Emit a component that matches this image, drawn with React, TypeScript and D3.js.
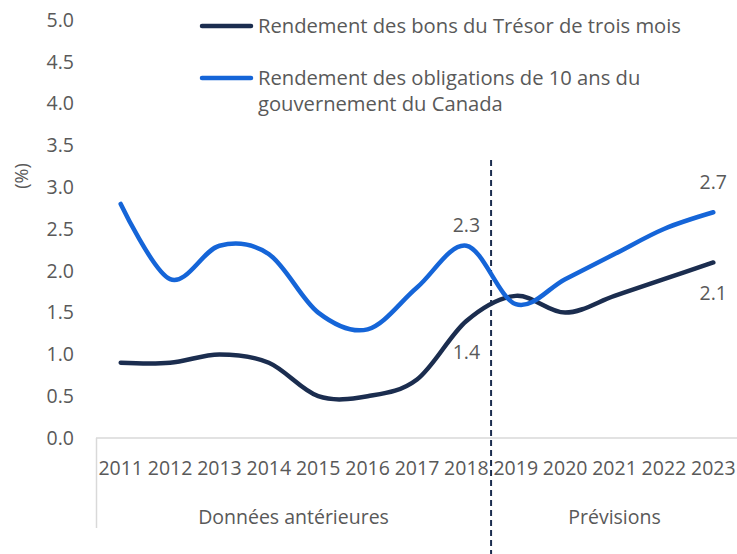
import React from 'react';
import * as d3 from 'd3';

const years = ['2011', '2012', '2013', '2014', '2015', '2016', '2017', '2018', '2019', '2020', '2021', '2022', '2023'];
const treasuryBills = [0.9, 0.9, 1.0, 0.9, 0.5, 0.5, 0.7, 1.4, 1.7, 1.5, 1.7, 1.9, 2.1];
const bonds10y = [2.8, 1.9, 2.3, 2.2, 1.5, 1.3, 1.8, 2.3, 1.6, 1.9, 2.2, 2.5, 2.7];
const yTicks = [0, 0.5, 1, 1.5, 2, 2.5, 3, 3.5, 4, 4.5, 5];
const groups = [
  { label: 'Données antérieures', from: '2011', to: '2018' },
  { label: 'Prévisions', from: '2019', to: '2023' },
];
const legendItems = [
  { lines: ['Rendement des bons du Trésor de trois mois'], color: '#1b2d4f' },
  { lines: ['Rendement des obligations de 10 ans du', 'gouvernement du Canada'], color: '#1565d8' },
];
// labels shown next to points
const pointLabels = [
  { series: 1, year: '2018' },
  { series: 0, year: '2018' },
  { series: 1, year: '2023' },
  { series: 0, year: '2023' },
];
const labelOffsets = [-21, 31, -30, 31];

const W = 737;
const H = 554;
const font = "'Open Sans', sans-serif";
const textColor = '#595959';

const App = () => {
  const x = d3.scaleBand().domain(years).range([96, 738]);
  const y = d3.scaleLinear().domain([0, 5]).range([438, 20]);
  const cx = (yr: string) => (x(yr) ?? 0) + x.bandwidth() / 2;

  const series = [treasuryBills, bonds10y];
  const line = d3
    .line<number>()
    .x((_, i) => cx(years[i]))
    .y((d) => y(d))
    .curve(d3.curveCatmullRom.alpha(0));

  const splitX = x('2019') ?? 0;

  return (
    <svg width={W} height={H} style={{ position: 'absolute', left: 0, top: 0 }} fontFamily={font}>
      {/* y axis labels */}
      {yTicks.map((t) => (
        <text key={t} x={74} y={y(t)} dy="0.35em" textAnchor="end" fontSize={19.5} fill={textColor}>
          {t.toFixed(1)}
        </text>
      ))}
      <text transform={`translate(22,176) rotate(-90)`} textAnchor="middle" dy="0.35em" fontSize={18} fill={textColor}>
        (%)
      </text>

      {/* x axis */}
      <line x1={96} x2={738} y1={y(0)} y2={y(0)} stroke="#d9d9d9" strokeWidth={1.5} />
      <line x1={96.5} x2={96.5} y1={y(0)} y2={528} stroke="#d9d9d9" strokeWidth={1.5} />
      {years.map((yr) => (
        <text key={yr} x={cx(yr)} y={468} dy="0.35em" textAnchor="middle" fontSize={19.5} fill={textColor}>
          {yr}
        </text>
      ))}
      {groups.map((g) => {
        const a = x(g.from) ?? 0;
        const b = (x(g.to) ?? 0) + x.bandwidth();
        return (
          <text key={g.label} x={(a + b) / 2} y={517} dy="0.35em" textAnchor="middle" fontSize={19.5} fill={textColor}>
            {g.label}
          </text>
        );
      })}

      {/* forecast separator */}
      <line x1={splitX} x2={splitX} y1={160} y2={H} stroke="#1b2d4f" strokeWidth={2} strokeDasharray="6,4" />

      {/* series */}
      {series.map((s, i) => (
        <path key={i} d={line(s) ?? ''} fill="none" stroke={legendItems[i].color} strokeWidth={4.5} strokeLinecap="round" />
      ))}

      {pointLabels.map((p, i) => {
        const v = series[p.series][years.indexOf(p.year)];
        return (
          <text key={i} x={cx(p.year)} y={y(v) + labelOffsets[i]} dy="0.35em" textAnchor="middle" fontSize={19.5} fill={textColor}>
            {v.toFixed(1)}
          </text>
        );
      })}

      {/* legend */}
      {legendItems.map((item, i) => {
        const ly = 26 + i * 52;
        return (
          <g key={i}>
            <line x1={202} x2={251} y1={ly} y2={ly} stroke={item.color} strokeWidth={4.5} strokeLinecap="round" />
            {item.lines.map((t, j) => (
              <text key={j} x={258} y={ly + j * 26} dy="0.35em" fontSize={20.2} fill={textColor}>
                {t}
              </text>
            ))}
          </g>
        );
      })}
    </svg>
  );
};

export default App;
